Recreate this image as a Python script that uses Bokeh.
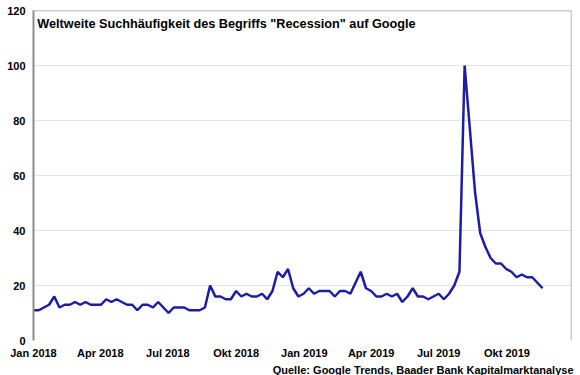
import pandas as pd
from bokeh.plotting import figure
from bokeh.models import Range1d, FixedTicker, Span, Label, Title
from bokeh.embed import file_html
from bokeh.resources import INLINE

# Weekly Google Trends index for "Recession" (worldwide)
start_week = "2018-01-01"
search_index = [
    11, 11, 12, 13, 16, 12, 13, 13, 14, 13,
    14, 13, 13, 13, 15, 14, 15, 14, 13, 13,
    11, 13, 13, 12, 14, 12, 10, 12, 12, 12,
    11, 11, 11, 12, 20, 16, 16, 15, 15, 18,
    16, 17, 16, 16, 17, 15, 18, 25, 23, 26,
    19, 16, 17, 19, 17, 18, 18, 18, 16, 18,
    18, 17, 21, 25, 19, 18, 16, 16, 17, 16,
    17, 14, 16, 19, 16, 16, 15, 16, 17, 15,
    17, 20, 25, 100, 77, 54, 39, 34, 30, 28,
    28, 26, 25, 23, 24, 23, 23, 21, 19,
]
tick_dates = ["2018-01-01", "2018-04-01", "2018-07-01", "2018-10-01",
              "2019-01-01", "2019-04-01", "2019-07-01", "2019-10-01"]
tick_labels = ["Jan 2018", "Apr 2018", "Jul 2018", "Okt 2018",
               "Jan 2019", "Apr 2019", "Jul 2019", "Okt 2019"]
y_ticks = [0, 20, 40, 60, 80, 100, 120]
axis_end_date = "2019-12-27"

title_text = 'Weltweite Suchhäufigkeit des Begriffs "Recession" auf Google'
source_text = "Quelle: Google Trends, Baader Bank Kapitalmarktanalyse"

origin = pd.Timestamp(start_week)
weeks = pd.date_range(start_week, periods=len(search_index), freq="7D")
x_days = [(d - origin).days for d in weeks]
tick_days = [(pd.Timestamp(d) - origin).days for d in tick_dates]
end_day = (pd.Timestamp(axis_end_date) - origin).days

FONT = "Liberation Sans"

p = figure(width=580, height=375, output_backend="svg", toolbar_location=None,
           x_range=Range1d(0, end_day), y_range=Range1d(0, 120),
           min_border_left=33, min_border_right=9, min_border_top=10,
           min_border_bottom=30)
p.outline_line_color = None
p.background_fill_color = "white"
p.border_fill_color = "white"

p.line(x_days, search_index, line_color="#1c1ca8", line_width=2.5)

# x axis
p.xaxis.ticker = FixedTicker(ticks=tick_days)
p.xaxis.major_label_overrides = {d: l for d, l in zip(tick_days, tick_labels)}
p.xaxis.axis_line_color = None
p.xaxis.major_tick_line_color = None
p.xaxis.minor_tick_line_color = None
p.xaxis.major_tick_out = 0
p.xaxis.major_tick_in = 0
p.xaxis.minor_tick_out = 0
p.xaxis.major_label_standoff = 6
p.xaxis.major_label_text_font = FONT
p.xaxis.major_label_text_font_style = "bold"
p.xaxis.major_label_text_font_size = "11px"
p.xaxis.major_label_text_color = "black"

# y axis
p.yaxis.ticker = FixedTicker(ticks=y_ticks)
p.yaxis.axis_line_color = "#8c8c8c"
p.yaxis.axis_line_width = 2
p.yaxis.major_tick_line_color = None
p.yaxis.minor_tick_line_color = None
p.yaxis.major_tick_out = 0
p.yaxis.major_tick_in = 0
p.yaxis.major_label_standoff = 8
p.yaxis.major_label_text_font = FONT
p.yaxis.major_label_text_font_style = "bold"
p.yaxis.major_label_text_font_size = "11px"
p.yaxis.major_label_text_color = "black"

p.xgrid.grid_line_color = None
p.ygrid.ticker = FixedTicker(ticks=y_ticks)
p.ygrid.grid_line_color = "#e4e4e4"
p.ygrid.grid_line_width = 1

# top and right frame border
p.add_layout(Span(location=120, dimension="width", line_color="#9a9a9a", line_width=1.5))
p.add_layout(Span(location=end_day, dimension="height", line_color="#9a9a9a", line_width=1.5))

# chart title inside plot area
p.add_layout(Label(x=5, y=115, text=title_text, text_baseline="middle",
                   text_align="left", text_font=FONT, text_font_style="bold",
                   text_font_size="12.7px", text_color="black"))

# source note below the axis
p.add_layout(Title(text=source_text, align="right", text_font=FONT,
                   text_font_style="bold", text_font_size="11px",
                   text_line_height=1.0, text_color="black",
                   standoff=0, offset=-2), "below")

open("out.html", "w").write(file_html(p, INLINE))
